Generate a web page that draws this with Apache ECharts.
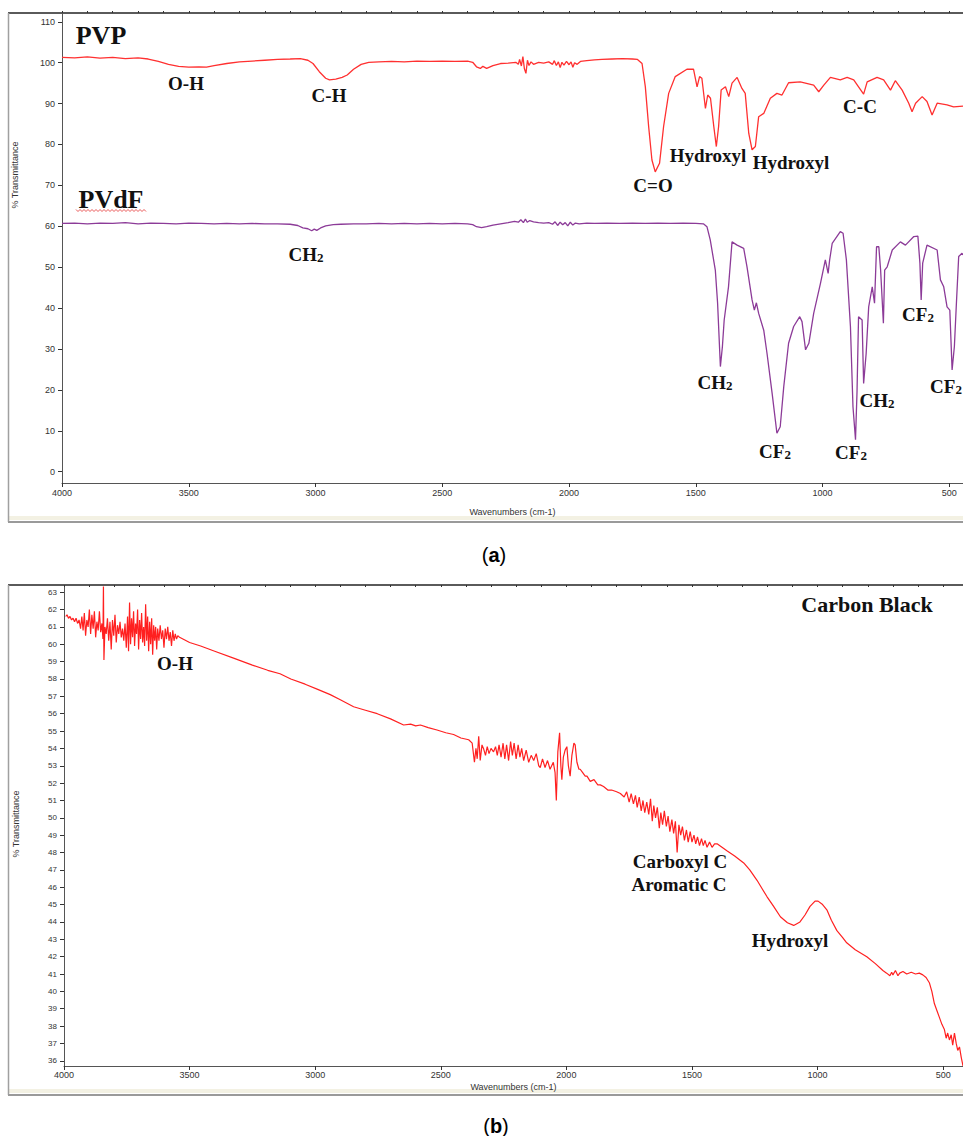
<!DOCTYPE html>
<html>
<head>
<meta charset="utf-8">
<title>FTIR spectra</title>
<script src="https://cdn.jsdelivr.net/npm/echarts@6/dist/echarts.min.js"></script>
<style>
  html, body { margin: 0; padding: 0; background: #fff; }
  #chart { width: 963px; height: 1136px; }
</style>
</head>
<body>
<div id="chart"></div>
<script>
// [wavenumber cm-1, % transmittance]
const pvp = [
  [4000, 101.3], [3950, 101.2], [3900, 101.4], [3850, 101.1], [3800, 101.3], [3750, 101.0],
  [3700, 101.2], [3660, 100.9], [3620, 100.3], [3580, 99.6], [3540, 99.1], [3500, 98.9],
  [3460, 99.0], [3430, 98.9], [3400, 99.3], [3350, 99.8], [3300, 100.2], [3250, 100.4],
  [3200, 100.6], [3150, 100.8], [3100, 100.9], [3060, 101.0], [3030, 100.6], [3010, 99.8],
  [2985, 97.8], [2960, 96.2], [2945, 95.8], [2920, 96.0], [2895, 96.4], [2875, 97.0],
  [2850, 98.4], [2820, 99.6], [2790, 100.1], [2750, 100.2], [2700, 100.3], [2650, 100.2],
  [2600, 100.4], [2550, 100.3], [2500, 100.4], [2450, 100.3], [2400, 100.4], [2380, 100.1],
  [2365, 99.0], [2350, 98.6], [2340, 99.1], [2325, 98.6], [2300, 99.3], [2270, 99.8],
  [2240, 99.9], [2210, 100.1], [2200, 99.6], [2195, 100.8], [2188, 99.2], [2182, 101.5],
  [2176, 98.5], [2170, 97.4], [2164, 100.6], [2158, 99.3], [2150, 100.2], [2140, 99.6],
  [2120, 100.1], [2100, 99.9], [2080, 100.2], [2065, 99.6], [2058, 100.5], [2050, 99.3],
  [2042, 100.2], [2035, 98.8], [2028, 100.1], [2020, 99.4], [2010, 100.3], [2000, 99.5],
  [1992, 100.2], [1985, 98.9], [1978, 100.0], [1968, 99.6], [1955, 100.3], [1930, 100.5],
  [1900, 100.7], [1870, 100.8], [1830, 100.9], [1790, 101.0], [1750, 100.9], [1730, 100.8],
  [1712, 99.8], [1699, 94.1], [1686, 84.4], [1673, 76.2], [1660, 73.3], [1643, 75.4],
  [1627, 84.4], [1607, 92.5], [1581, 96.6], [1535, 98.4], [1509, 98.4], [1495, 94.1],
  [1485, 96.6], [1476, 96.2], [1462, 88.8], [1453, 92.1], [1442, 91.3], [1429, 84.4],
  [1419, 79.5], [1410, 84.4], [1400, 93.3], [1383, 94.1], [1370, 91.7], [1357, 95.0],
  [1337, 96.4], [1318, 93.7], [1305, 92.5], [1291, 82.7], [1278, 78.7], [1265, 79.5],
  [1252, 86.8], [1232, 87.6], [1206, 91.3], [1180, 92.5], [1160, 92.1], [1134, 95.1],
  [1088, 95.3], [1035, 94.5], [1015, 92.9], [995, 94.5], [969, 96.4], [930, 95.8],
  [903, 96.4], [877, 95.8], [858, 94.1], [838, 92.3], [824, 95.3], [785, 96.4],
  [759, 95.8], [732, 93.3], [713, 95.6], [686, 93.3], [660, 90.1], [647, 88.0],
  [633, 90.1], [607, 91.7], [588, 90.5], [568, 87.2], [548, 90.1], [509, 89.7],
  [483, 89.2], [446, 89.4]
];

const pvdf = [
  [4000, 60.7], [3950, 60.8], [3900, 60.6], [3850, 60.8], [3800, 60.7], [3750, 60.9],
  [3700, 60.6], [3650, 60.8], [3600, 60.7], [3550, 60.6], [3500, 60.8], [3450, 60.7],
  [3400, 60.6], [3350, 60.7], [3300, 60.6], [3250, 60.7], [3200, 60.6], [3150, 60.6],
  [3100, 60.5], [3070, 60.2], [3050, 59.6], [3030, 59.4], [3015, 58.9], [3005, 59.3],
  [2995, 59.0], [2980, 59.6], [2960, 60.1], [2930, 60.4], [2900, 60.5], [2850, 60.6],
  [2800, 60.6], [2750, 60.7], [2700, 60.6], [2650, 60.7], [2600, 60.6], [2550, 60.7],
  [2500, 60.6], [2450, 60.7], [2400, 60.6], [2380, 60.4], [2365, 59.9], [2345, 59.7],
  [2325, 59.9], [2300, 60.3], [2270, 60.6], [2240, 60.9], [2215, 61.2], [2200, 61.0],
  [2190, 61.6], [2180, 60.9], [2172, 61.8], [2165, 61.0], [2155, 61.4], [2140, 61.1],
  [2120, 60.9], [2100, 60.8], [2080, 60.9], [2065, 60.5], [2055, 61.1], [2045, 60.2],
  [2035, 61.0], [2025, 60.4], [2015, 60.9], [2005, 60.1], [1995, 61.0], [1985, 60.3],
  [1975, 60.8], [1960, 60.6], [1930, 60.8], [1900, 60.7], [1850, 60.8], [1800, 60.7],
  [1750, 60.8], [1700, 60.7], [1650, 60.8], [1600, 60.7], [1550, 60.8], [1500, 60.7],
  [1470, 60.6], [1456, 59.9], [1443, 56.7], [1423, 49.3], [1414, 41.2], [1403, 25.7],
  [1395, 30.6], [1388, 37.1], [1371, 45.2], [1357, 56.2], [1337, 55.4], [1311, 54.6],
  [1298, 50.1], [1278, 42.0], [1269, 39.5], [1261, 41.3], [1252, 38.7], [1232, 34.6],
  [1219, 28.9], [1199, 19.2], [1180, 9.4], [1167, 11.0], [1153, 20.8], [1134, 31.4],
  [1114, 35.5], [1090, 37.9], [1081, 36.7], [1067, 29.8], [1054, 31.4], [1035, 38.7],
  [1008, 46.1], [989, 51.8], [978, 48.5], [972, 51.8], [962, 55.8], [930, 58.7],
  [919, 58.3], [906, 51.8], [890, 35.5], [880, 15.9], [870, 7.8], [864, 19.6],
  [858, 37.9], [844, 37.1], [838, 21.6], [828, 28.9], [818, 40.3], [804, 45.2],
  [795, 41.2], [787, 55.0], [778, 55.0], [771, 49.3], [760, 36.3], [755, 49.3],
  [745, 50.1], [725, 54.2], [693, 56.2], [673, 55.4], [640, 57.5], [624, 57.6],
  [616, 51.0], [611, 42.0], [605, 51.0], [588, 55.4], [548, 54.2], [535, 46.9],
  [522, 45.2], [509, 40.3], [498, 39.5], [489, 24.9], [480, 30.6], [472, 41.2],
  [463, 52.6], [450, 53.4], [446, 53.0]
];

const carbonBlack = [
  [3993, 61.6], [3988, 61.7], [3982, 61.5], [3976, 61.6], [3970, 61.4], [3964, 61.5],
  [3958, 61.3], [3952, 61.5], [3946, 61.2], [3940, 61.4], [3934, 60.9], [3929, 61.6],
  [3924, 60.8], [3919, 61.8], [3914, 60.5], [3909, 61.4], [3904, 61.0], [3899, 62.0],
  [3894, 60.6], [3889, 61.7], [3884, 60.9], [3879, 61.9], [3874, 60.4], [3869, 61.3],
  [3864, 60.8], [3859, 61.9], [3854, 60.7], [3849, 61.2], [3845, 60.3], [3843, 63.4],
  [3841, 59.1], [3837, 61.0], [3832, 60.6], [3827, 61.5], [3822, 60.2], [3817, 61.3],
  [3812, 59.7], [3807, 61.4], [3802, 60.5], [3797, 61.7], [3792, 60.1], [3787, 61.1],
  [3782, 60.6], [3777, 61.3], [3772, 60.4], [3767, 60.9], [3762, 60.2], [3757, 61.2],
  [3752, 59.8], [3747, 61.6], [3743, 59.6], [3739, 62.4], [3735, 60.0], [3731, 61.5],
  [3727, 60.4], [3723, 61.9], [3719, 59.9], [3715, 61.2], [3711, 60.6], [3707, 62.0],
  [3703, 59.7], [3699, 61.4], [3695, 60.3], [3691, 61.8], [3687, 60.1], [3683, 61.0],
  [3679, 59.9], [3675, 62.3], [3671, 60.2], [3667, 61.6], [3663, 59.6], [3659, 61.3],
  [3655, 60.0], [3651, 61.5], [3647, 59.4], [3643, 61.1], [3639, 60.2], [3635, 61.0],
  [3631, 59.7], [3627, 60.9], [3622, 60.2], [3617, 61.1], [3612, 60.3], [3607, 60.8],
  [3602, 59.8], [3597, 60.9], [3592, 60.3], [3587, 61.0], [3582, 60.2], [3577, 60.7],
  [3572, 59.9], [3567, 60.8], [3562, 60.2], [3557, 60.6], [3552, 60.3], [3547, 60.5],
  [3540, 60.4], [3500, 60.1], [3456, 59.9], [3400, 59.6], [3325, 59.2], [3250, 58.8],
  [3189, 58.5], [3140, 58.3], [3097, 58.0], [3040, 57.7], [2990, 57.4], [2940, 57.1],
  [2900, 56.8], [2847, 56.4], [2800, 56.2], [2753, 56.0], [2700, 55.7], [2648, 55.35],
  [2620, 55.4], [2600, 55.3], [2581, 55.35], [2550, 55.2], [2515, 55.06], [2480, 54.9],
  [2449, 54.8], [2420, 54.6], [2389, 54.5], [2375, 54.3], [2366, 53.2], [2360, 54.0],
  [2355, 53.4], [2349, 54.7], [2343, 53.3], [2336, 54.2], [2330, 54.0], [2322, 53.6],
  [2315, 54.1], [2308, 53.7], [2300, 54.0], [2290, 53.8], [2282, 54.1], [2275, 53.6],
  [2268, 54.2], [2260, 53.5], [2252, 54.3], [2245, 53.4], [2238, 54.2], [2230, 53.3],
  [2222, 54.4], [2215, 53.6], [2208, 54.3], [2200, 53.4], [2192, 54.2], [2185, 53.5],
  [2178, 54.0], [2170, 53.3], [2160, 53.9], [2150, 53.2], [2140, 53.6], [2130, 53.3],
  [2120, 53.7], [2110, 53.0], [2104, 52.9], [2095, 53.4], [2085, 52.9], [2075, 53.3],
  [2065, 52.8], [2052, 53.2], [2045, 52.6], [2040, 51.0], [2034, 53.8], [2027, 54.9],
  [2022, 53.0], [2018, 52.2], [2012, 53.5], [2005, 53.9], [1998, 54.1], [1992, 53.0],
  [1985, 52.4], [1978, 53.6], [1970, 54.3], [1965, 54.2], [1958, 53.2], [1950, 52.8],
  [1945, 52.8], [1935, 52.6], [1925, 52.4], [1918, 52.4], [1905, 52.1], [1890, 52.2],
  [1875, 51.9], [1865, 51.9], [1852, 51.8], [1835, 51.6], [1820, 51.6], [1800, 51.5],
  [1785, 51.4], [1770, 51.2], [1760, 51.5], [1750, 50.9], [1742, 51.4], [1733, 50.8],
  [1725, 51.3], [1718, 50.6], [1710, 51.2], [1702, 50.4], [1695, 51.0], [1688, 50.3],
  [1680, 50.9], [1672, 50.2], [1665, 51.1], [1658, 49.8], [1652, 50.7], [1645, 50.0],
  [1638, 50.6], [1630, 49.4], [1624, 50.3], [1617, 49.6], [1610, 50.4], [1602, 49.5],
  [1595, 50.1], [1588, 49.2], [1580, 49.9], [1573, 49.1], [1566, 49.8], [1559, 48.0],
  [1552, 49.6], [1545, 49.0], [1538, 49.5], [1530, 48.7], [1522, 49.3], [1515, 48.6],
  [1507, 49.2], [1500, 48.6], [1492, 49.0], [1485, 48.5], [1478, 48.9], [1470, 48.4],
  [1462, 48.8], [1455, 48.4], [1448, 48.7], [1440, 48.3], [1430, 48.6], [1420, 48.3],
  [1410, 48.5], [1400, 48.5], [1361, 48.1], [1330, 47.8], [1294, 47.4], [1270, 47.0],
  [1241, 46.4], [1220, 45.9], [1201, 45.45], [1175, 44.9], [1148, 44.3], [1120, 43.95],
  [1095, 43.8], [1070, 44.0], [1050, 44.4], [1030, 44.9], [1010, 45.2], [998, 45.2],
  [980, 45.0], [963, 44.7], [945, 44.1], [923, 43.5], [900, 43.1], [884, 42.8],
  [850, 42.4], [804, 42.0], [770, 41.6], [740, 41.2], [725, 41.05], [712, 40.9],
  [705, 41.1], [700, 40.95], [690, 41.2], [680, 40.9], [673, 41.05], [660, 41.15],
  [645, 41.0], [627, 41.1], [610, 41.0], [595, 41.05], [581, 40.95], [568, 40.8],
  [555, 40.5], [545, 40.0], [535, 39.3], [525, 38.9], [515, 38.5], [505, 38.1],
  [495, 37.8], [488, 37.3], [482, 37.6], [475, 37.2], [468, 37.5], [462, 36.9],
  [455, 37.6], [448, 37.0], [442, 36.6], [435, 36.8], [428, 36.2], [421, 35.7]
];

const wnLabels = [4000, 3500, 3000, 2500, 2000, 1500, 1000, 500];
const yLabelsA = [0, 10, 20, 30, 40, 50, 60, 70, 80, 90, 100, 110];
const yLabelsB = [36, 37, 38, 39, 40, 41, 42, 43, 44, 45, 46, 47, 48, 49, 50,
  51, 52, 53, 54, 55, 56, 57, 58, 59, 60, 61, 62, 63];

function steps(from, to, step) {
  const out = [];
  for (let v = from; v <= to + 1e-9; v += step) out.push(Math.round(v * 100) / 100);
  return out;
}
const wnMinor = steps(500, 4000, 100);
const yMinorA = steps(-2, 112, 2);
const yMinorB = steps(35.75, 63.25, 0.25);

const tickFont = { color: '#333', fontSize: 9, fontFamily: 'Liberation Sans Narrow, Liberation Sans, Arial' };
const axisGray = '#555';
const plain = (v) => String(v);

function majorX(grid, min, labelMargin, nameGap) {
  return {
    type: 'value', gridIndex: grid, inverse: true, min, max: 4000,
    name: 'Wavenumbers (cm-1)', nameLocation: 'middle', nameGap,
    nameTextStyle: tickFont,
    axisLine: { onZero: false, lineStyle: { color: axisGray, width: 1 } },
    axisTick: { customValues: wnLabels, length: 4, lineStyle: { color: '#333' } },
    axisLabel: { customValues: wnLabels, margin: labelMargin, formatter: plain, ...tickFont },
    splitLine: { show: false }
  };
}
function minorX(grid, min) {
  return {
    type: 'value', gridIndex: grid, inverse: true, min, max: 4000,
    axisLine: { show: false, onZero: false },
    axisTick: { customValues: wnMinor, length: 2, lineStyle: { color: '#333' } },
    axisLabel: { show: false }, splitLine: { show: false }
  };
}
function majorY(grid, min, max, labels, fontSize, margin) {
  return {
    type: 'value', gridIndex: grid, min, max,
    axisLine: { show: true, onZero: false, lineStyle: { color: axisGray, width: 1 } },
    axisTick: { show: true, customValues: labels, length: 4, lineStyle: { color: '#333' } },
    axisLabel: { customValues: labels, margin, formatter: plain, ...tickFont, fontSize },
    splitLine: { show: false }
  };
}
function minorY(grid, min, max, values) {
  return {
    type: 'value', gridIndex: grid, min, max,
    axisLine: { show: false, onZero: false },
    axisTick: { show: true, customValues: values, length: 2, lineStyle: { color: '#444' } },
    axisLabel: { show: false }, splitLine: { show: false }
  };
}

const serif = 'Liberation Serif, Times New Roman, serif';
const rich = {
  m: { fontFamily: serif, fontWeight: 'bold', fontSize: 19, fill: '#111' },
  s: { fontFamily: serif, fontWeight: 'bold', fontSize: 13, fill: '#111', verticalAlign: 'bottom' }
};
function note(text, x, y, size) {
  return {
    type: 'text', x, y, z: 100,
    style: {
      text, fill: '#111', fontFamily: serif, fontWeight: 'bold', fontSize: size || 19,
      align: 'center', verticalAlign: 'middle'
    }
  };
}
function noteSub(base, x, y) {
  return {
    type: 'text', x, y, z: 100,
    style: { text: '{m|' + base + '}{s|2}', rich, align: 'center', verticalAlign: 'middle' }
  };
}
function caption(letter, x, y) {
  return {
    type: 'text', x, y,
    style: {
      text: '{p|(}{b|' + letter + '}{p|)}', align: 'center', verticalAlign: 'middle',
      rich: {
        p: { fontFamily: 'Liberation Sans, Arial', fontSize: 20, fill: '#000' },
        b: { fontFamily: 'Liberation Sans, Arial', fontSize: 20, fontWeight: 'bold', fill: '#000' }
      }
    }
  };
}
function yName(x, y) {
  return {
    type: 'text', x, y, rotation: Math.PI / 2,
    style: { text: '% Transmittance', align: 'center', verticalAlign: 'middle', ...tickFont, fill: '#333' }
  };
}
function frame(top, bottom) {
  return [
    { type: 'rect', shape: { x: 9, y: bottom - 6, width: 954, height: 4 }, style: { fill: '#f3f1e3' } },
    { type: 'line', shape: { x1: 8, y1: top, x2: 963, y2: top }, style: { stroke: '#5a5a5a', lineWidth: 2 } },
    { type: 'line', shape: { x1: 8.5, y1: top, x2: 8.5, y2: bottom }, style: { stroke: '#a0a0a0', lineWidth: 1.5 } },
    { type: 'line', shape: { x1: 8, y1: bottom, x2: 963, y2: bottom }, style: { stroke: '#9a9a9a', lineWidth: 2 } }
  ];
}

// red spell-check squiggle under "PVdF"
const squiggle = [];
for (let x = 76; x <= 147; x += 2) squiggle.push([x, x % 4 === 0 ? 209.5 : 211.5]);

const chart = echarts.init(document.getElementById('chart'), null, { renderer: 'svg' });

chart.setOption({
  animation: false,
  backgroundColor: '#fff',
  grid: [
    { left: 62, top: 13, right: 0, height: 470 },
    { left: 64, top: 587, right: 0, height: 479 }
  ],
  xAxis: [
    majorX(0, 446, 5, 24), minorX(0, 446),
    majorX(1, 421, 4, 16), minorX(1, 421)
  ],
  yAxis: [
    majorY(0, -2.76, 112.15, yLabelsA, 9, 7), minorY(0, -2.76, 112.15, yMinorA),
    majorY(1, 35.7, 63.3, yLabelsB, 8, 7), minorY(1, 35.7, 63.3, yMinorB)
  ],
  series: [
    {
      name: 'PVP', type: 'line', xAxisIndex: 0, yAxisIndex: 0, data: pvp,
      showSymbol: false, silent: true, color: '#ff3030',
      lineStyle: { width: 1.3, color: '#ff3030' }
    },
    {
      name: 'PVdF', type: 'line', xAxisIndex: 0, yAxisIndex: 0, data: pvdf,
      showSymbol: false, silent: true, color: '#8c3b98',
      lineStyle: { width: 1.3, color: '#8c3b98' }
    },
    {
      name: 'Carbon Black', type: 'line', xAxisIndex: 2, yAxisIndex: 2, data: carbonBlack,
      showSymbol: false, silent: true, color: '#ff2020',
      lineStyle: { width: 1.2, color: '#ff2020' }
    }
  ],
  graphic: [
    ...frame(13, 522),
    ...frame(585, 1095),
    yName(15, 175),
    yName(16, 824),
    caption('a', 494, 555),
    caption('b', 496, 1126),
    // panel (a)
    note('PVP', 101, 35, 26),
    note('PVdF', 111, 199, 26),
    { type: 'polyline', shape: { points: squiggle }, style: { stroke: '#e23030', lineWidth: 0.8, fill: null } },
    note('O-H', 186, 83),
    note('C-H', 329, 95),
    noteSub('CH', 306, 254),
    note('C=O', 653, 185),
    note('Hydroxyl', 708, 155),
    note('Hydroxyl', 791, 162),
    note('C-C', 860, 106),
    noteSub('CH', 715, 382),
    noteSub('CF', 775, 451),
    noteSub('CF', 851, 452),
    noteSub('CH', 877, 400),
    noteSub('CF', 918, 314),
    noteSub('CF', 946, 386),
    // panel (b)
    note('Carbon Black', 867, 604, 22),
    note('O-H', 175, 663),
    note('Carboxyl C', 680, 861),
    note('Aromatic C', 679, 884),
    note('Hydroxyl', 790, 940)
  ]
});
</script>
</body>
</html>
